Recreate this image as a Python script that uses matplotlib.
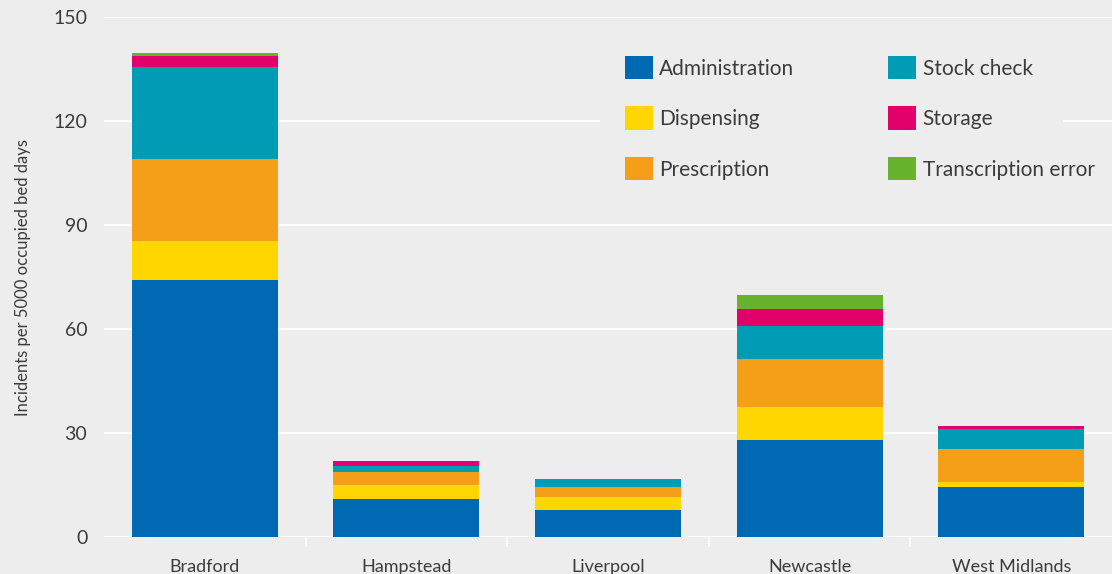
import matplotlib
matplotlib.use("Agg")
import matplotlib.pyplot as plt
from matplotlib.patches import Rectangle
import numpy as np

# ---data---
sites = ["Bradford", "Hampstead", "Liverpool", "Newcastle", "West Midlands"]
administration = [74.1, 11.0, 7.8, 28.0, 14.4]
dispensing = [11.3, 4.0, 3.7, 9.5, 1.5]
prescription = [23.6, 3.8, 2.9, 13.8, 9.5]
stock_check = [26.6, 1.7, 2.3, 9.6, 5.8]
storage = [3.2, 1.4, 0.0, 4.9, 0.9]
transcription = [0.9, 0.0, 0.0, 4.0, 0.0]
y_ticks = [0, 30, 60, 90, 120, 150]

series = [
    ("Administration", administration, "#0069b4"),
    ("Dispensing", dispensing, "#ffd600"),
    ("Prescription", prescription, "#f59e18"),
    ("Stock check", stock_check, "#009bb4"),
    ("Storage", storage, "#e2006a"),
    ("Transcription error", transcription, "#67b32e"),
]

bg = "#ededed"
txt = "#3c3c3c"
plt.rcParams["font.family"] = ["Lato", "DejaVu Sans"]

W, H = 1112, 574
ax_l, ax_b, ax_t = 104, 537, 17  # pixel edges of the plot area

fig = plt.figure(figsize=(W / 100, H / 100), dpi=100, facecolor=bg)
ax = fig.add_axes([ax_l / W, 1 - ax_b / H, 1 - ax_l / W, (ax_b - ax_t) / H])
ax.set_facecolor(bg)

x = np.arange(len(sites))
bottom = np.zeros(len(sites))
for name, vals, col in series:
    vals = np.array(vals)
    ax.bar(x, vals, bottom=bottom, width=0.725, color=col, label=name, zorder=3)
    bottom += vals

ax.set_xlim(-0.5, len(sites) - 0.5)
ax.set_ylim(0, 150)
ax.set_yticks(y_ticks)
ax.yaxis.grid(True, color="white", linewidth=1.6)
ax.set_axisbelow(True)
for s in ax.spines.values():
    s.set_visible(False)

ax.set_xticks(x)
ax.set_xticklabels(sites)
ax.set_xticks(np.arange(0.5, len(sites) - 1, 1.0), minor=True)
ax.tick_params(axis="x", which="major", length=0, pad=16, labelsize=13, labelcolor=txt)
ax.tick_params(axis="x", which="minor", length=7, width=1.2, color="white", direction="out")
ax.tick_params(axis="y", length=0, pad=12, labelsize=14, labelcolor=txt)
ax.set_ylabel("Incidents per 5000 occupied bed days", fontsize=12, color=txt, labelpad=16)

# background block behind the legend (hides the gridline there)
def px2ax(px, py):
    return (px - ax_l) / (W - ax_l), (ax_b - py) / (ax_b - ax_t)

rx0, ry0 = px2ax(600, 195)
rx1, ry1 = px2ax(1063, 35)
ax.add_patch(Rectangle((rx0, ry0), rx1 - rx0, ry1 - ry0, transform=ax.transAxes,
                       facecolor=bg, edgecolor="none", zorder=1))

lx, ly = px2ax(625, 56)
leg = ax.legend(ncol=2, loc="upper left", bbox_to_anchor=(lx, ly),
                frameon=False, fontsize=15, handlelength=1.35, handleheight=1.35,
                handletextpad=0.3, columnspacing=4.5, labelspacing=1.3,
                borderpad=0, borderaxespad=0, labelcolor=txt)

fig.savefig("out.png", dpi=100, facecolor=bg)
